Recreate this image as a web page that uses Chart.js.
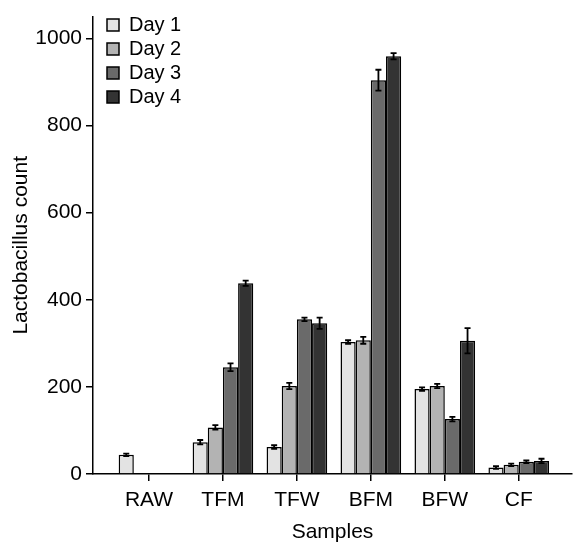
<!DOCTYPE html>
<html>
<head>
<meta charset="utf-8">
<script src="https://cdn.jsdelivr.net/npm/chart.js@4/dist/chart.umd.min.js"></script>
<style>
  html, body { margin: 0; padding: 0; background: #fff; }
  #wrap { width: 573px; height: 545px; }
</style>
</head>
<body>
<div id="wrap"><canvas id="grafico"></canvas></div>
<script>
// --- datos ---
const categorias = ['RAW', 'TFM', 'TFW', 'BFM', 'BFW', 'CF'];
const dias = ['Day 1', 'Day 2', 'Day 3', 'Day 4'];

const day1 = [44, 73, 62, 303, 195, 15];
const day2 = [null, 107, 202, 307, 202, 21];
const day3 = [null, 245, 355, 904, 126, 28];
const day4 = [null, 438, 346, 959, 306, 30];

const err1 = [3, 5, 4, 4, 4, 3];
const err2 = [null, 5, 7, 8, 5, 3];
const err3 = [null, 9, 4, 24, 5, 3];
const err4 = [null, 6, 13, 7, 29, 5];

const yTicks = [0, 200, 400, 600, 800, 1000];

const colores = ['#e3e3e3', '#b3b3b3', '#6a6a6a', '#333333'];
const FUENTE = "'Liberation Sans', Arial, sans-serif";

const series = [day1, day2, day3, day4];
const errores = [err1, err2, err3, err4];

// barras de error dibujadas con las escalas del gráfico
const pluginErrores = {
    id: 'errores',
    afterDatasetsDraw(chart) {
        const ctx = chart.ctx;
        const y = chart.scales.y;
        ctx.save();
        ctx.strokeStyle = '#000';
        ctx.lineWidth = 1.8;
        chart.data.datasets.forEach((ds, d) => {
            const meta = chart.getDatasetMeta(d);
            meta.data.forEach((bar, i) => {
                const v = ds.data[i];
                const e = errores[d][i];
                if (v == null || e == null) return;
                const x = bar.x;
                const y1 = y.getPixelForValue(v + e);
                const y2 = y.getPixelForValue(v - e);
                ctx.beginPath();
                ctx.moveTo(x, y1); ctx.lineTo(x, y2);
                ctx.moveTo(x - 3, y1); ctx.lineTo(x + 3, y1);
                ctx.moveTo(x - 3, y2); ctx.lineTo(x + 3, y2);
                ctx.stroke();
            });
        });
        ctx.restore();
    }
};

// mover la leyenda a la esquina superior izquierda
const pluginLeyenda = {
    id: 'leyendaPos',
    afterLayout(chart) {
        const lg = chart.legend;
        if (!lg) return;
        lg.left = 103;
        lg.top = 11;
    }
};

new Chart(document.getElementById('grafico'), {
    type: 'bar',
    data: {
        labels: categorias.map((c, i) => i),
        datasets: dias.map((nombre, d) => ({
            label: nombre,
            data: series[d],
            backgroundColor: colores[d],
            borderColor: '#000',
            borderWidth: 1.5,
            categoryPercentage: 0.82,
            barPercentage: 1.0
        }))
    },
    plugins: [pluginErrores, pluginLeyenda],
    options: {
        responsive: true,
        maintainAspectRatio: false,
        animation: false,
        layout: { padding: { top: 15, right: 1, left: 0, bottom: 0 } },
        plugins: {
            tooltip: { enabled: false },
            legend: {
                position: 'chartArea',
                align: 'start',
                labels: {
                    boxWidth: 12,
                    boxHeight: 12,
                    padding: 4,
                    color: '#000',
                    font: { family: FUENTE, size: 20 }
                }
            }
        },
        scales: {
            x: {
                type: 'linear',
                offset: false,
                min: -0.757,
                max: 5.72,
                afterBuildTicks: (s) => { s.ticks = categorias.map((c, i) => ({ value: i })); },
                afterFit: (s) => { s.height = 71; },
                ticks: {
                    autoSkip: false,
                    maxRotation: 0,
                    padding: 7,
                    color: '#000',
                    font: { family: FUENTE, size: 21 },
                    callback: (v) => categorias[v]
                },
                grid: { offset: false, drawOnChartArea: false, tickLength: 7, color: '#000', lineWidth: 1.5 },
                border: { color: '#000', width: 1.5 },
                title: {
                    display: true,
                    text: 'Samples',
                    color: '#000',
                    font: { family: FUENTE, size: 21 },
                    padding: { top: 5, bottom: 0 }
                }
            },
            y: {
                min: 0,
                max: 1050,
                afterBuildTicks: (s) => { s.ticks = yTicks.map(v => ({ value: v })); },
                afterFit: (s) => { s.width = 93; },
                ticks: {
                    padding: 4,
                    color: '#000',
                    font: { family: FUENTE, size: 21 },
                    callback: (v) => String(v)
                },
                grid: { drawOnChartArea: false, tickLength: 7, color: '#000', lineWidth: 1.5 },
                border: { color: '#000', width: 1.5 },
                title: {
                    display: true,
                    text: 'Lactobacillus count',
                    color: '#000',
                    font: { family: FUENTE, size: 21 },
                    padding: { top: 9, bottom: 4 }
                }
            }
        }
    }
});
</script>
</body>
</html>
